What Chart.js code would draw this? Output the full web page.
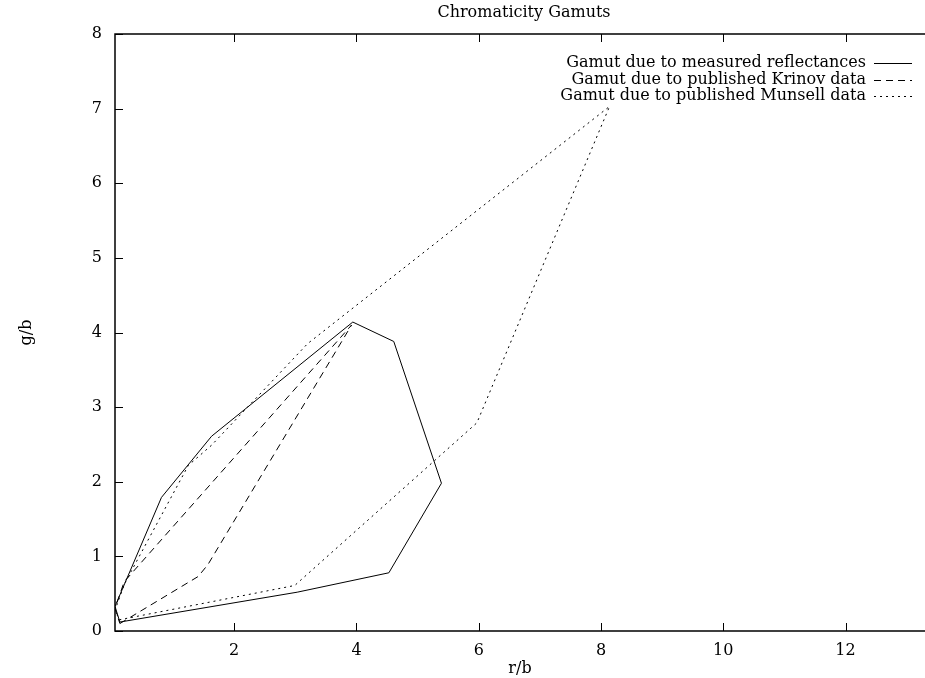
<!DOCTYPE html>
<html>
<head>
<meta charset="utf-8">
<title>Chromaticity Gamuts</title>
<script src="https://cdn.jsdelivr.net/npm/chart.js@4.4.1/dist/chart.umd.min.js"></script>
<style>
    html, body { margin: 0; padding: 0; background: #fff; }
    #wrap { width: 925px; height: 678px; }
</style>
</head>
<body>
<div id="wrap"><canvas id="gamutChart" width="925" height="678"></canvas></div>
<script>
// Gamut outlines (r/b, g/b)
const measuredR = [0.13, 3.03, 4.53, 5.39, 4.61, 3.94, 1.63, 0.81, 0.05, 0.13];
const measuredG = [0.12, 0.52, 0.78, 1.98, 3.88, 4.14, 2.61, 1.79, 0.33, 0.12];

const krinovR = [0.13, 1.41, 1.57, 3.92, 0.20, 0.05, 0.13];
const krinovG = [0.10, 0.73, 0.89, 4.10, 0.66, 0.30, 0.10];

const munsellR = [0.12, 2.99, 5.97, 8.14, 3.20, 1.63, 1.25, 0.21, 0.05, 0.12];
const munsellG = [0.15, 0.61, 2.79, 7.03, 3.85, 2.49, 2.22, 0.64, 0.28, 0.15];

const seriesLabels = [
    'Gamut due to measured reflectances',
    'Gamut due to published Krinov data',
    'Gamut due to published Munsell data'
];

// Tick labels
const xTicks = [2, 4, 6, 8, 10, 12];
const yTicks = [0, 1, 2, 3, 4, 5, 6, 7, 8];

const FONT = "'DejaVu Serif', 'Liberation Serif', serif";
const dashes = [[], [7, 5], [2, 4]];

function toPoints(xs, ys) {
    return xs.map((x, i) => ({ x: x, y: ys[i] }));
}

// gnuplot style frame: inward tics, top mirror tics, title and own key
const framePlugin = {
    id: 'frame',
    afterDraw(chart) {
        const ctx = chart.ctx;
        const area = chart.chartArea;
        const xs = chart.scales.x;
        const ys = chart.scales.y;
        ctx.save();
        ctx.strokeStyle = '#000';
        ctx.lineWidth = 1.5;
        ctx.beginPath();
        ctx.moveTo(area.right + 2, area.top);
        ctx.lineTo(area.left, area.top);
        ctx.lineTo(area.left, area.bottom);
        ctx.lineTo(area.right + 2, area.bottom);
        ctx.stroke();

        ctx.lineWidth = 1;
        ctx.beginPath();
        xs.ticks.forEach(t => {
            const px = Math.round(xs.getPixelForValue(t.value)) + 0.5;
            ctx.moveTo(px, area.bottom);
            ctx.lineTo(px, area.bottom - 8);
            ctx.moveTo(px, area.top);
            ctx.lineTo(px, area.top + 8);
        });
        ys.ticks.forEach(t => {
            const py = Math.round(ys.getPixelForValue(t.value)) + 0.5;
            ctx.moveTo(area.left, py);
            ctx.lineTo(area.left + 8, py);
        });
        ctx.stroke();

        ctx.font = '16px ' + FONT;
        ctx.fillStyle = '#000';
        ctx.textBaseline = 'middle';

        // title, centred over the plot
        ctx.textAlign = 'center';
        ctx.fillText('Chromaticity Gamuts', (area.left + area.right) / 2 + 4, 13);

        // key, top right
        ctx.textAlign = 'right';
        chart.data.datasets.forEach((ds, i) => {
            const y = 63 + i * 16.5;
            ctx.fillText(ds.label, 866, y);
            ctx.setLineDash(ds.borderDash || []);
            ctx.beginPath();
            ctx.moveTo(874, Math.round(y) + 0.5);
            ctx.lineTo(912, Math.round(y) + 0.5);
            ctx.stroke();
        });
        ctx.restore();
    }
};

const gamutChart = new Chart(document.getElementById('gamutChart'), {
    type: 'scatter',
    data: {
        datasets: [
            { label: seriesLabels[0], data: toPoints(measuredR, measuredG), borderDash: dashes[0] },
            { label: seriesLabels[1], data: toPoints(krinovR, krinovG), borderDash: dashes[1] },
            { label: seriesLabels[2], data: toPoints(munsellR, munsellG), borderDash: dashes[2] }
        ].map(ds => Object.assign(ds, {
            showLine: true,
            borderColor: '#000',
            borderWidth: 1,
            pointRadius: 0,
            tension: 0,
            fill: false
        }))
    },
    options: {
        responsive: false,
        animation: false,
        layout: { padding: { top: 34, left: 0, right: 0, bottom: 0 } },
        plugins: {
            legend: { display: false },
            tooltip: { enabled: false },
            title: { display: false }
        },
        scales: {
            x: {
                type: 'linear',
                min: 0.05,
                max: 13.3,
                afterBuildTicks: scale => { scale.ticks = xTicks.map(v => ({ value: v })); },
                afterFit: scale => { scale.height = 47; },
                grid: { display: false, drawTicks: false },
                border: { display: false },
                ticks: {
                    color: '#000',
                    padding: 10,
                    maxRotation: 0,
                    font: { family: FONT, size: 16 },
                    callback: v => String(v)
                },
                title: {
                    display: true,
                    text: 'r/b',
                    color: '#000',
                    font: { family: FONT, size: 16, lineHeight: 1.2 },
                    padding: { top: 2, bottom: 0 }
                }
            },
            y: {
                type: 'linear',
                min: 0,
                max: 8,
                afterBuildTicks: scale => { scale.ticks = yTicks.map(v => ({ value: v })); },
                afterFit: scale => { scale.width = 115; },
                grid: { display: false, drawTicks: false },
                border: { display: false },
                ticks: {
                    color: '#000',
                    padding: 13,
                    font: { family: FONT, size: 16 },
                    callback: v => String(v)
                },
                title: {
                    display: true,
                    text: 'g/b',
                    color: '#000',
                    font: { family: FONT, size: 16, lineHeight: 1.2 },
                    padding: { top: 17, bottom: 0 }
                }
            }
        }
    },
    plugins: [framePlugin]
});
</script>
</body>
</html>
